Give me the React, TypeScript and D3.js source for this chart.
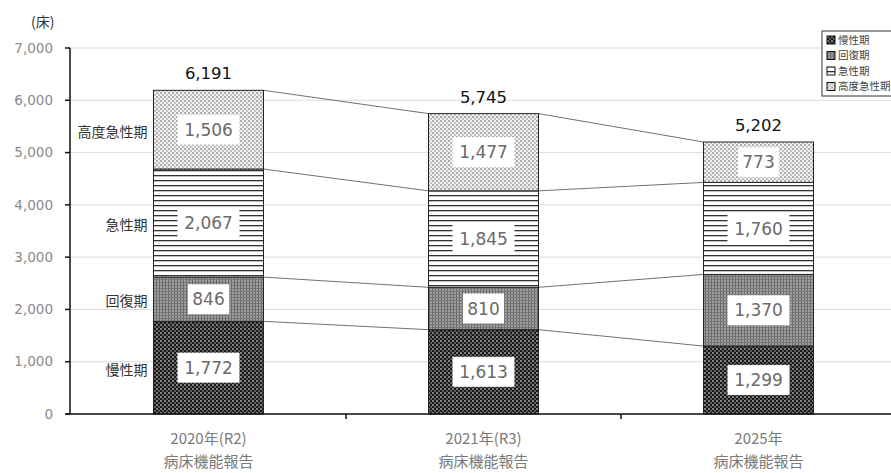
import React from "react";
import * as d3 from "d3";

const categories = ["2020年(R2)", "2021年(R3)", "2025年"];
const subLabel = "病床機能報告";
const seriesNames = ["慢性期", "回復期", "急性期", "高度急性期"];
const chronic = [1772, 1613, 1299];
const recovery = [846, 810, 1370];
const acute = [2067, 1845, 1760];
const highAcute = [1506, 1477, 773];
const yTicks = [0, 1000, 2000, 3000, 4000, 5000, 6000, 7000];
const legendNames = ["慢性期", "回復期", "急性期", "高度急性期"];

const W = 891;
const H = 473;
const fmt = d3.format(",");

export default function App() {
  const series = [chronic, recovery, acute, highAcute];
  const patterns = ["pChronic", "pRecovery", "pAcute", "pHigh"];
  const y = d3.scaleLinear().domain([0, 7000]).range([414, 48]);
  const x = d3
    .scaleBand<string>()
    .domain(categories)
    .range([71, 896])
    .paddingInner(0.6)
    .paddingOuter(0.3);
  const bw = x.bandwidth();
  const step = x.step();

  const stacked = categories.map((_, i) => {
    let acc = 0;
    return series.map((s) => {
      const y0 = acc;
      acc += s[i];
      return { y0, y1: acc, v: s[i] };
    });
  });
  const totals = stacked.map((st) => st[st.length - 1].y1);

  const connectors: { x1: number; y1: number; x2: number; y2: number }[] = [];
  for (let i = 0; i < categories.length - 1; i++) {
    for (let k = 0; k < series.length; k++) {
      connectors.push({
        x1: (x(categories[i]) as number) + bw,
        y1: y(stacked[i][k].y1),
        x2: x(categories[i + 1]) as number,
        y2: y(stacked[i + 1][k].y1),
      });
    }
  }

  const labelW = (v: number) => fmt(v).length * 10.4 + 10;

  return (
    <svg width={W} height={H} style={{ position: "absolute", left: 0, top: 0, background: "#fff" }}>
      <defs>
        <pattern id="pChronic" width="4" height="4" patternUnits="userSpaceOnUse">
          <rect width="4" height="4" fill="#1a1a1a" />
          <circle cx="1" cy="1" r="0.9" fill="#b0b0b0" />
          <circle cx="3" cy="3" r="0.9" fill="#7a7a7a" />
        </pattern>
        <pattern id="pRecovery" width="3" height="3" patternUnits="userSpaceOnUse">
          <rect width="3" height="3" fill="#a0a0a0" />
          <rect x="0" y="0" width="1" height="3" fill="#666" />
          <rect x="0" y="0" width="3" height="1" fill="#777" />
        </pattern>
        <pattern id="pAcute" width="5" height="5" patternUnits="userSpaceOnUse">
          <rect width="5" height="5" fill="#ffffff" />
          <rect x="0" y="0" width="5" height="1.3" fill="#333333" />
        </pattern>
        <pattern id="pHigh" width="4" height="4" patternUnits="userSpaceOnUse">
          <rect width="4" height="4" fill="#f2f2f2" />
          <circle cx="1" cy="1" r="0.9" fill="#8c8c8c" />
          <circle cx="3" cy="3" r="0.9" fill="#a8a8a8" />
        </pattern>
      </defs>

      {yTicks.map((t) => (
        <line key={"g" + t} x1={70} x2={W} y1={y(t)} y2={y(t)} stroke="#dcdcdc" strokeWidth={1} />
      ))}

      <line x1={70} x2={70} y1={y(7000)} y2={y(0)} stroke="#111" strokeWidth={1.5} />
      {yTicks.map((t) => (
        <g key={"t" + t}>
          <line x1={65} x2={70} y1={y(t)} y2={y(t)} stroke="#111" strokeWidth={1.5} />
          <text
            x={53}
            y={y(t)}
            dy="0.35em"
            textAnchor="end"
            fontFamily="DejaVu Sans"
            fontSize={13.5}
            fill="#8a8a8a"
          >
            {fmt(t)}
          </text>
        </g>
      ))}
      <text x={31} y={27} fontFamily="Noto Sans CJK JP" fontSize={14} fill="#333">
        (床)
      </text>

      {connectors.map((c, i) => (
        <line key={"c" + i} x1={c.x1} y1={c.y1} x2={c.x2} y2={c.y2} stroke="#707070" strokeWidth={1} />
      ))}

      {categories.map((cat, i) => (
        <g key={cat}>
          {stacked[i].map((s, k) => (
            <rect
              key={k}
              x={x(cat)}
              y={y(s.y1)}
              width={bw}
              height={y(s.y0) - y(s.y1)}
              fill={`url(#${patterns[k]})`}
              stroke="#222"
              strokeWidth={1}
            />
          ))}
          {stacked[i].map((s, k) => {
            const cx = (x(cat) as number) + bw / 2;
            const cy = (y(s.y0) + y(s.y1)) / 2;
            const w = labelW(s.v);
            return (
              <g key={"l" + k}>
                <rect x={cx - w / 2} y={cy - 15} width={w} height={30} fill="#fff" />
                <text
                  x={cx}
                  y={cy}
                  dy="0.36em"
                  textAnchor="middle"
                  fontFamily="DejaVu Sans"
                  fontSize={17}
                  fill="#6a6a6a"
                >
                  {fmt(s.v)}
                </text>
              </g>
            );
          })}
          <text
            x={(x(cat) as number) + bw / 2}
            y={y(totals[i]) - 11}
            textAnchor="middle"
            fontFamily="DejaVu Sans"
            fontSize={16.5}
            fill="#111"
          >
            {fmt(totals[i])}
          </text>
          <text
            x={(x(cat) as number) + bw / 2}
            y={444}
            textAnchor="middle"
            fontFamily="Noto Sans CJK JP"
            fontSize={15}
            fill="#7a7a7a"
          >
            {cat}
          </text>
          <text
            x={(x(cat) as number) + bw / 2}
            y={467}
            textAnchor="middle"
            fontFamily="Noto Sans CJK JP"
            fontSize={15}
            fill="#7a7a7a"
          >
            {subLabel}
          </text>
        </g>
      ))}

      <line x1={66} x2={W} y1={y(0)} y2={y(0)} stroke="#111" strokeWidth={1.5} />
      {categories.map((cat, i) =>
        i === 0 ? null : (
          <line
            key={"xt" + i}
            x1={(x(cat) as number) - (step - bw) / 2}
            x2={(x(cat) as number) - (step - bw) / 2}
            y1={y(0)}
            y2={y(0) + 5}
            stroke="#111"
            strokeWidth={1.5}
          />
        )
      )}

      {seriesNames.map((n, k) => {
        const s = stacked[0][k];
        return (
          <text
            key={"sn" + k}
            x={(x(categories[0]) as number) - 6}
            y={(y(s.y0) + y(s.y1)) / 2 + 2}
            dy="0.35em"
            textAnchor="end"
            fontFamily="Noto Sans CJK JP"
            fontSize={14}
            fill="#333"
          >
            {n}
          </text>
        );
      })}

      <rect x={822} y={31} width={80} height={65} fill="#fff" stroke="#333" strokeWidth={1} />
      {legendNames.map((n, k) => (
        <g key={"lg" + k} transform={`translate(827, ${40 + k * 15.5})`}>
          <rect x={0} y={-4} width={8} height={8} fill={`url(#${patterns[k]})`} stroke="#111" strokeWidth={1} />
          <text x={11} y={0} dy="0.35em" fontFamily="Noto Sans CJK JP" fontSize={10.5} fill="#444">
            {n}
          </text>
        </g>
      ))}
    </svg>
  );
}
